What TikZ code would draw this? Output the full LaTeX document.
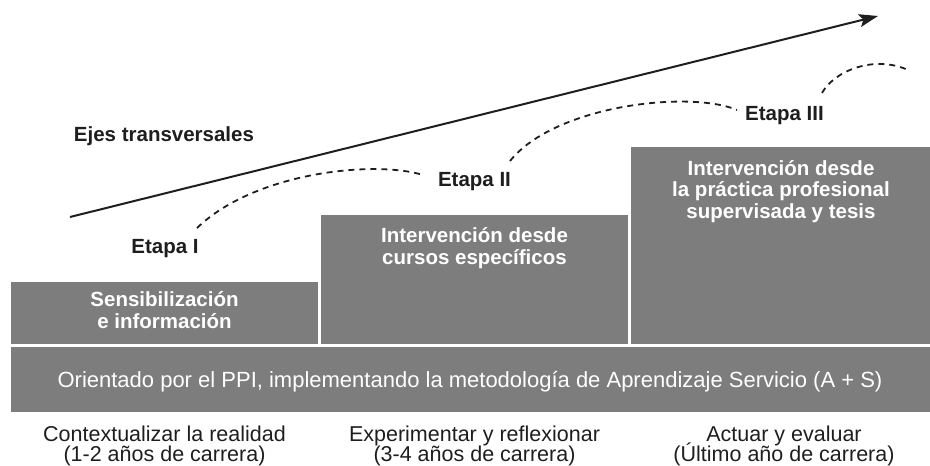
\documentclass[tikz,border=0pt]{standalone}
\usepackage{fontspec}
\setmainfont{Liberation Sans}
\usetikzlibrary{arrows.meta}
\definecolor{boxgray}{HTML}{7D7D7D}
\definecolor{ink}{HTML}{1E1E1E}
\setlength{\lineskiplimit}{-50pt}
\begin{document}
\begin{tikzpicture}[x=1pt,y=-1pt,
  stagebox/.style={fill=boxgray, draw=none, inner sep=0pt, outer sep=0pt, anchor=north west},
  boxtext/.style={text=white, font=\fontsize{20.5}{21.6}\selectfont\bfseries, align=center, anchor=base, inner sep=0pt},
  etapa/.style={text=ink, font=\fontsize{20.5}{24}\selectfont\bfseries, anchor=base, inner sep=0pt},
  bartext/.style={text=white, font=\fontsize{22}{24}\selectfont, anchor=base, inner sep=0pt},
  bottomtext/.style={text=ink, font=\fontsize{21.5}{19.5}\selectfont, align=center, anchor=base, inner sep=0pt},
  dashline/.style={draw=ink, line width=1.8pt, dash pattern=on 6pt off 5pt},
  mainarrow/.style={draw=ink, line width=2pt, -{Stealth[length=19pt, width=13pt, inset=4pt]}}
]
\useasboundingbox (0,0) rectangle (930,466);
\lineskiplimit=-50pt

% boxes
\node[stagebox, minimum width=307pt, minimum height=62pt] (box1) at (11,282) {};
\node[stagebox, minimum width=307pt, minimum height=129pt] (box2) at (321,215) {};
\node[stagebox, minimum width=299pt, minimum height=197pt] (box3) at (631,147) {};
\node[stagebox, minimum width=919pt, minimum height=65pt] (bar) at (11,347) {};

% box texts (anchor = baseline of last line)
\node[boxtext] (t1) at (164.5,328.5) {Sensibilización\\e información};
\node[boxtext] (t2) at (474.5,264.5) {Intervención desde\\cursos específicos};
\node[boxtext] (t3) at (781,218.5) {Intervención desde\\la práctica profesional\\supervisada y tesis};
\node[bartext] (tbar) at (470,387) {Orientado por el PPI, implementando la metodología de Aprendizaje Servicio (A + S)};

% bottom labels
\node[bottomtext] (b1) at (164.5,461) {Contextualizar la realidad\\(1-2 años de carrera)};
\node[bottomtext] (b2) at (474.5,461) {Experimentar y reflexionar\\(3-4 años de carrera)};
\node[bottomtext] (b3) at (784,461) {Actuar y evaluar\\(Último año de carrera)};

% upper labels
\node[etapa] (ejes) at (164,141) {Ejes transversales};
\node[etapa] (e1) at (165,253) {Etapa I};
\node[etapa] (e2) at (474.5,186) {Etapa II};
\node[etapa] (e3) at (784.5,120) {Etapa III};

% arrow
\coordinate (astart) at (70,217);
\coordinate (aend) at (878,16);
\draw[mainarrow] (astart) -- (aend);

% dashed curves
\coordinate (d1s) at (197,228);
\coordinate (d1e) at (423,175);
\coordinate (d2s) at (510,161);
\coordinate (d2e) at (737,110);
\coordinate (d3s) at (822,93);
\coordinate (d3e) at (908,70);
\draw[dashline] (d1s) .. controls (255,172) and (375,160) .. (d1e);
\draw[dashline] (d2s) .. controls (555,105) and (690,90) .. (d2e);
\draw[dashline] (d3s) .. controls (835,70) and (875,55) .. (d3e);
\end{tikzpicture}
\end{document}
